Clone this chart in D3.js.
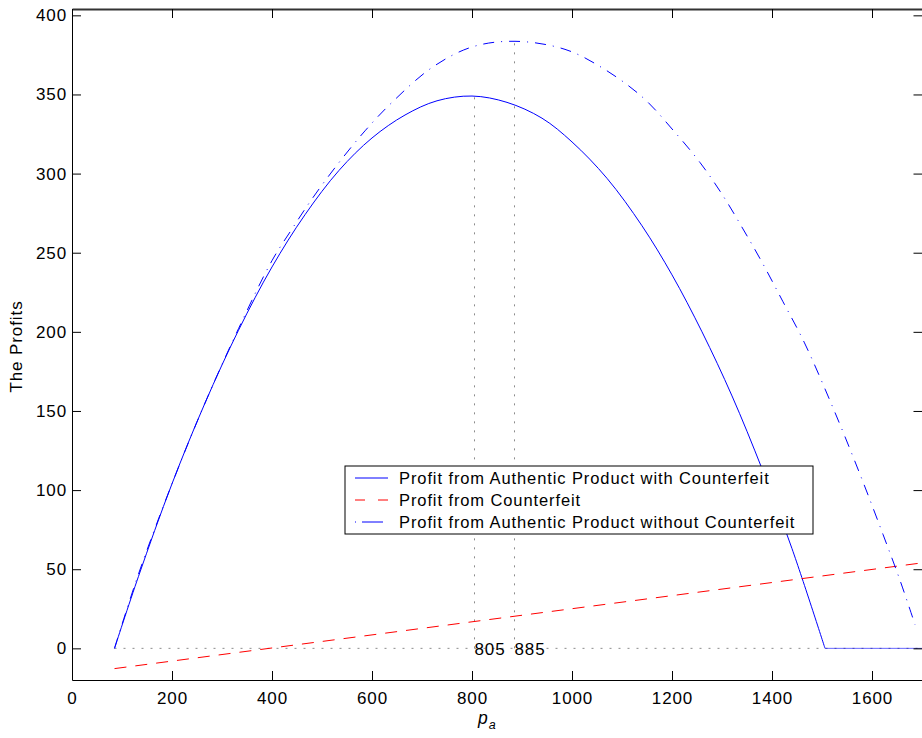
<!DOCTYPE html>
<html>
<head>
<meta charset="utf-8">
<script src="https://cdn.jsdelivr.net/npm/d3@7"></script>
<style>
  body { margin: 0; background: #fff; }
  svg { display: block; font-family: "Liberation Sans", Arial, Helvetica, sans-serif; }
  text { letter-spacing: 0.9px; }
</style>
</head>
<body>
<script>
// profit from authentic product with counterfeit (solid)
const withP = [85, 133, 200, 266, 333, 400, 466, 534, 600, 666, 730, 800, 870, 940, 1000, 1070, 1140, 1200, 1260, 1320, 1380, 1440, 1506];
const withV = [0, 45.5, 104, 155, 201, 241, 274, 302, 322.5, 337, 346, 349, 345, 335, 320, 297, 267, 236, 200, 159.5, 113.5, 63, 0];
const flatP = [1506, 1600, 1700];
const flatV = [0, 0, 0];

// profit from counterfeit (dashed red)
const cfP = [85, 1700];
const cfV = [-12.8, 54];

// profit from authentic product without counterfeit (dash-dot)
const woP = [85, 133, 200, 266, 333, 400, 440, 480, 534, 586, 640, 720, 800, 886, 986, 1062, 1142, 1202, 1256, 1302, 1342, 1380, 1422, 1465, 1522, 1576, 1622, 1656, 1686];
const woV = [0, 47, 104, 155, 202, 245, 265, 284, 307, 327, 345, 367, 380, 383.6, 378.5, 366.5, 348, 327.5, 307, 286, 265, 244, 219, 193, 152, 110, 72, 43, 15];

// optimum prices and the profit there
const peakP = [805, 885];
const peakV = [349, 383.6];

const xTicks = [0, 200, 400, 600, 800, 1000, 1200, 1400, 1600];
const yTicks = [0, 50, 100, 150, 200, 250, 300, 350, 400];

const legendLabels = [
  "Profit from Authentic Product with Counterfeit",
  "Profit from Counterfeit",
  "Profit from Authentic Product without Counterfeit"
];

const W = 922, H = 738;
const mLeft = 72, mRight = 922, mTop = 9, mBottom = 680;

const svg = d3.select("body").append("svg")
  .attr("width", W).attr("height", H);

const x = d3.scaleLinear().domain([0, 1700]).range([mLeft, mRight]);
const y = d3.scaleLinear().domain([-20, 404]).range([mBottom, mTop]);

const zip = (a, b) => a.map((d, i) => [d, b[i]]);
const line = d3.line().x(d => x(d[0])).y(d => y(d[1]));
const smooth = d3.line().x(d => x(d[0])).y(d => y(d[1])).curve(d3.curveCatmullRom.alpha(0.5));

svg.append("clipPath").attr("id", "clip")
  .append("rect").attr("x", mLeft).attr("y", mTop).attr("width", mRight - mLeft).attr("height", mBottom - mTop);

const g = svg.append("g").attr("clip-path", "url(#clip)");

// dotted guides
const dotStyle = sel => sel.attr("fill", "none").attr("stroke", "#8c8c8c")
  .attr("stroke-width", 1).attr("stroke-dasharray", "2,7");

g.append("path").attr("d", line([[85, 0], [1700, 0]])).call(dotStyle);
peakP.forEach((p, i) => {
  g.append("path").attr("d", line([[p, 0], [p, peakV[i]]])).call(dotStyle);
});

// series
g.append("path").attr("d", smooth(zip(withP, withV)))
  .attr("fill", "none").attr("stroke", "#0000ff").attr("stroke-width", 1);
g.append("path").attr("d", line(zip(flatP, flatV)))
  .attr("fill", "none").attr("stroke", "#0000ff").attr("stroke-width", 1).attr("stroke-opacity", 0.6);

g.append("path").attr("d", line(zip(cfP, cfV)))
  .attr("fill", "none").attr("stroke", "#ff0000").attr("stroke-width", 1)
  .attr("stroke-dasharray", "12,9");

g.append("path").attr("d", smooth(zip(woP, woV)))
  .attr("fill", "none").attr("stroke", "#0000ff").attr("stroke-width", 1)
  .attr("stroke-dasharray", "11,7,1,7");

// peak labels
peakP.forEach(p => {
  svg.append("text").attr("x", x(p)).attr("y", y(0) + 6.5)
    .attr("font-size", 17).text(p);
});

// axes (MATLAB style, inward ticks on all sides)
const tick = 9;
const fmt = d3.format("d");
const axisBottom = d3.axisBottom(x).tickValues(xTicks).tickFormat(fmt).tickSizeInner(-tick).tickSizeOuter(0).tickPadding(11.5);
const axisTop = d3.axisTop(x).tickValues(xTicks).tickSizeInner(-tick).tickSizeOuter(0).tickFormat("");
const axisLeft = d3.axisLeft(y).tickValues(yTicks).tickFormat(fmt).tickSizeInner(-tick).tickSizeOuter(0).tickPadding(5);
const axisRight = d3.axisRight(y).tickValues(yTicks).tickSizeInner(-tick).tickSizeOuter(0).tickFormat("");

const styleAxis = sel => {
  sel.select(".domain").attr("stroke", "#000");
  sel.selectAll(".tick line").attr("stroke", "#000");
  sel.selectAll("text").attr("fill", "#000").attr("font-size", 17)
    .attr("font-family", "'Liberation Sans', Arial, Helvetica, sans-serif");
};

svg.append("g").attr("transform", `translate(0,${mBottom})`).call(axisBottom).call(styleAxis);
svg.append("g").attr("transform", `translate(0,${mTop})`).call(axisTop).call(styleAxis)
  .select(".domain").attr("stroke", "#333").attr("stroke-width", 2);
svg.append("g").attr("transform", `translate(${mLeft},0)`).call(axisLeft).call(styleAxis);
svg.append("g").attr("transform", `translate(${mRight + 0.5},0)`).call(axisRight).call(styleAxis);

// axis labels
svg.append("text")
  .attr("transform", `translate(22,${(mTop + mBottom) / 2 + 2}) rotate(-90)`)
  .attr("text-anchor", "middle").attr("font-size", 17).text("The Profits");

const xl = svg.append("text").attr("x", 478).attr("y", 724).attr("font-size", 17.5);
xl.append("tspan").attr("font-style", "italic").text("p");
xl.append("tspan").attr("font-style", "italic").attr("font-size", 12.5).attr("dy", 5).text("a");

// legend
const lg = svg.append("g").attr("transform", "translate(345,466)");
lg.append("rect").attr("width", 468).attr("height", 68)
  .attr("fill", "#fff").attr("stroke", "#000").attr("stroke-width", 1);

const legStyles = [
  { color: "#0000ff", dash: null },
  { color: "#ff0000", dash: "10,13" },
  { color: "#0000ff", dash: "1,6,21,6,1" }
];
legendLabels.forEach((t, i) => {
  const cy = 12 + i * 22;
  lg.append("line").attr("x1", 10).attr("x2", 43).attr("y1", cy).attr("y2", cy)
    .attr("stroke", legStyles[i].color).attr("stroke-width", 1)
    .attr("stroke-dasharray", legStyles[i].dash);
  lg.append("text").attr("x", 54).attr("y", cy + 6).attr("font-size", 16.5).text(t);
});
</script>
</body>
</html>
